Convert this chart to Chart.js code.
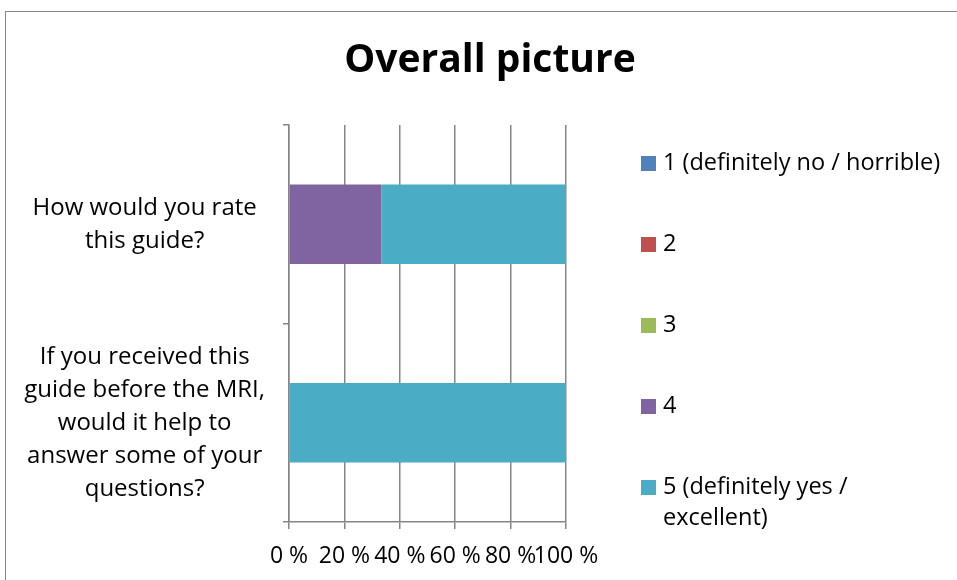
<!DOCTYPE html>
<html lang="en">
<head>
    <meta charset="UTF-8">
    <script src="https://cdn.jsdelivr.net/npm/chart.js"></script>
    <title>Overall picture</title>
    <style>
        body { margin: 0; background: #fff; }
        canvas { display: block; }
    </style>
</head>
<body>
    <canvas id="myChart" width="957" height="580"></canvas>
</body>
<script>
    // survey questions (one label line per array entry)
    const questions = [
        ["How would you rate", "this guide?"],
        ["If you received this", "guide before the MRI,", "would it help to", "answer some of your", "questions?"]
    ];
    // answer scale, as shown in the legend
    const answers = [
        ["1 (definitely no / horrible)"],
        ["2"],
        ["3"],
        ["4"],
        ["5 (definitely yes /", "excellent)"]
    ];
    // share of answers in percent, per answer, per question
    const answer1 = [0, 0];
    const answer2 = [0, 0];
    const answer3 = [0, 0];
    const answer4 = [33.3, 0];
    const answer5 = [66.7, 100];
    const percentTicks = [0, 20, 40, 60, 80, 100];

    const colors = ['#4F81BD', '#C0504D', '#9BBB59', '#8064A2', '#4BACC6'];
    const gridColor = '#868686';
    const fontFamily = '"Open Sans", "Noto Sans", sans-serif';

    const series = [answer1, answer2, answer3, answer4, answer5];

    // frame, title and legend are drawn by hand
    const decorations = {
        id: 'decorations',
        beforeDraw(chart) {
            const ctx = chart.ctx;
            ctx.save();
            ctx.strokeStyle = gridColor;
            ctx.lineWidth = 1;
            ctx.strokeRect(5.5, 11.5, 1100, 1100);
            ctx.restore();
        },
        afterDraw(chart) {
            const ctx = chart.ctx;
            ctx.save();
            ctx.fillStyle = '#000';
            ctx.textAlign = 'center';
            ctx.textBaseline = 'middle';
            ctx.font = 'bold 39px ' + fontFamily;
            ctx.fillText('Overall picture', 490, 61);

            ctx.font = '23.5px ' + fontFamily;
            ctx.textAlign = 'left';
            chart.data.datasets.forEach((ds, i) => {
                const y = 163 + i * 81;
                ctx.fillStyle = ds.backgroundColor;
                ctx.fillRect(641, y - 7, 15, 15);
                ctx.fillStyle = '#000';
                answers[i].forEach((line, j) => {
                    ctx.fillText(line, 663, y + j * 31);
                });
            });
            ctx.restore();
        }
    };

    const ctx = document.getElementById('myChart');
    new Chart(ctx, {
        type: 'bar',
        data: {
            labels: questions,
            datasets: series.map((data, i) => ({
                label: answers[i].join(' '),
                data: data,
                backgroundColor: colors[i],
                borderWidth: 0,
                categoryPercentage: 0.8,
                barPercentage: 0.5
            }))
        },
        options: {
            indexAxis: 'y',
            responsive: false,
            animation: false,
            layout: { padding: { top: 125, right: 391, bottom: 0, left: 0 } },
            plugins: {
                legend: { display: false },
                title: { display: false },
                tooltip: { enabled: false }
            },
            scales: {
                x: {
                    stacked: true,
                    min: 0,
                    max: 100,
                    afterBuildTicks(scale) {
                        scale.ticks = percentTicks.map(v => ({ value: v }));
                    },
                    afterFit(scale) { scale.height = 58; },
                    ticks: {
                        color: '#000',
                        padding: 14,
                        maxRotation: 0,
                        autoSkip: false,
                        font: { family: fontFamily, size: 23 },
                        callback: v => v + ' %'
                    },
                    grid: { color: gridColor, lineWidth: 1.5, tickLength: 7 },
                    border: { color: gridColor, width: 1.5 }
                },
                y: {
                    stacked: true,
                    afterFit(scale) { scale.width = 289; },
                    ticks: {
                        color: '#000',
                        padding: 18,
                        crossAlign: 'center',
                        font: { family: fontFamily, size: 24, lineHeight: 1.375 }
                    },
                    grid: { drawOnChartArea: false, color: gridColor, lineWidth: 1.5, tickLength: 6 },
                    border: { color: gridColor, width: 1.5 }
                }
            }
        },
        plugins: [decorations]
    });
</script>
</html>
